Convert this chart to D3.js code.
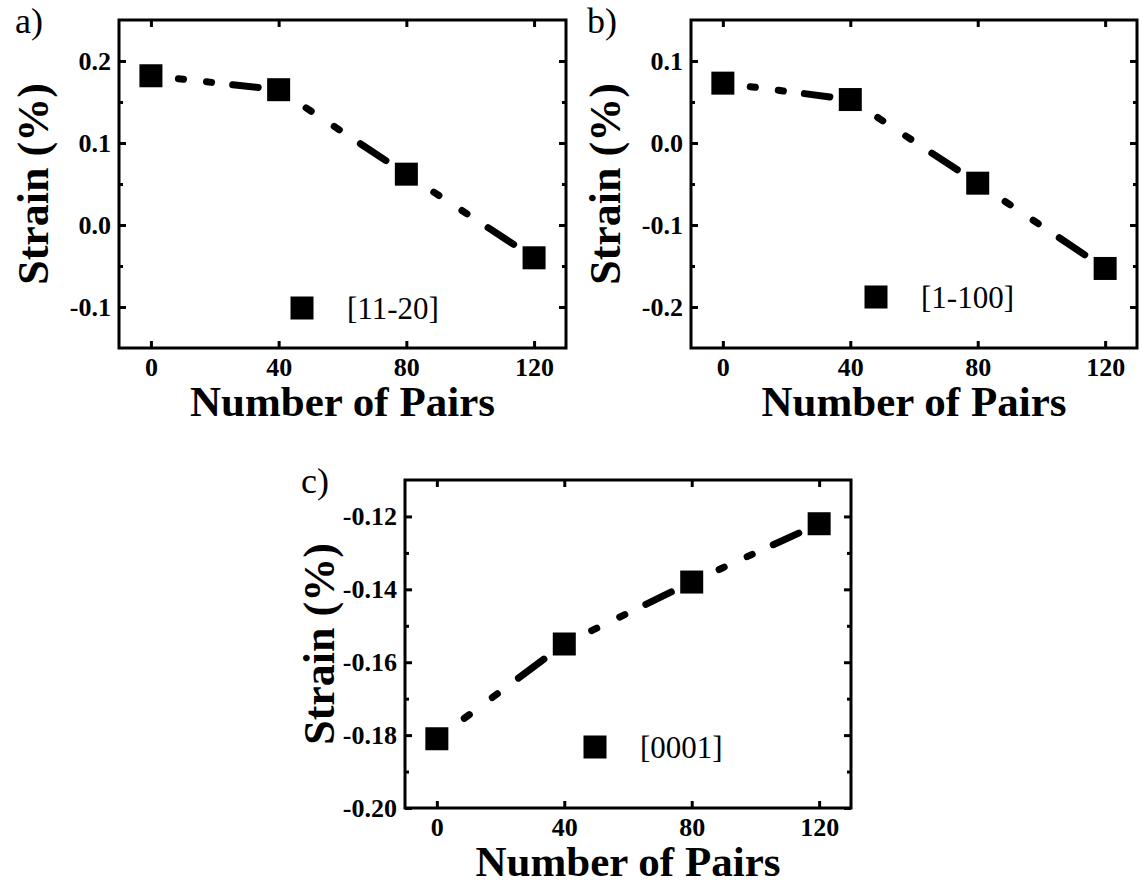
<!DOCTYPE html>
<html>
<head>
<meta charset="utf-8">
<title>Strain vs number of pairs</title>
<style>
	body {
		margin: 0;
		background: #fff;
	}
	svg text {
		font-family: "Liberation Serif", "Times New Roman", serif;
		fill: #000;
	}
	.tick line {
		stroke: #000;
		stroke-width: 3px;
	}
	.tick text {
		font-size: 26px;
		font-weight: bold;
	}
</style>
</head>
<body>
<script src="https://d3js.org/d3.v7.min.js"></script>
<script>

// x values (number of pairs) shared by the three panels
var pairs = [0, 40, 80, 120];
var xTicks = [0, 40, 80, 120];

// strain (%)
var strainA = [0.182, 0.165, 0.062, -0.040];   // [11-20]
var strainB = [0.073, 0.053, -0.049, -0.153];  // [1-100]
var strainC = [-0.181, -0.155, -0.138, -0.122]; // [0001]

var yTicksA = [-0.1, 0.0, 0.1, 0.2];
var yMinorA = [-0.05, 0.05, 0.15];
var yTicksB = [-0.2, -0.1, 0.0, 0.1];
var yMinorB = [-0.15, -0.05, 0.05];
var yTicksC = [-0.20, -0.18, -0.16, -0.14, -0.12];
var yMinorC = [-0.19, -0.17, -0.15, -0.13];

var legendNames = ["[11-20]", "[1-100]", "[0001]"];
var panelLetters = ["a)", "b)", "c)"];

var width = 1143;
var height = 883;

var svg = d3.select("body")
	.append("svg")
	.attr("width", width)
	.attr("height", height);

svg.append("rect")
	.attr("width", width)
	.attr("height", height)
	.attr("fill", "#fff");

// one panel = frame + mirrored ticks + dashed line + squares + legend
function drawPanel(p) {
	var x = d3.scaleLinear().domain([-10, 130]).range([p.x0, p.x1]);
	var y = d3.scaleLinear().domain(p.yDomain).range([p.y1, p.y0]);
	var fmt = d3.format(p.fmt);
	var yFormat = function(d) { return fmt(d).replace("\u2212", "-"); };

	var g = svg.append("g");

	// axes with inward ticks
	g.append("g")
		.attr("transform", "translate(0," + p.y1 + ")")
		.call(d3.axisBottom(x).tickValues(xTicks).tickSize(-7).tickPadding(10))
		.call(function(s) { s.select(".domain").remove(); })
		.selectAll("text").attr("dy", "0.71em");

	g.append("g")
		.attr("transform", "translate(0," + p.y0 + ")")
		.call(d3.axisTop(x).tickValues(xTicks).tickSize(-7).tickFormat(""))
		.call(function(s) { s.select(".domain").remove(); });

	g.append("g")
		.attr("transform", "translate(" + p.x0 + ",0)")
		.call(d3.axisLeft(y).tickValues(p.yTicks).tickSize(-7).tickPadding(8).tickFormat(yFormat))
		.call(function(s) { s.select(".domain").remove(); });

	g.append("g")
		.attr("transform", "translate(" + p.x0 + ",0)")
		.call(d3.axisLeft(y).tickValues(p.yMinor).tickSize(-4).tickFormat(""))
		.call(function(s) { s.select(".domain").remove(); });

	g.append("g")
		.attr("transform", "translate(" + p.x1 + ",0)")
		.call(d3.axisRight(y).tickValues(p.yTicks).tickSize(-7).tickFormat(""))
		.call(function(s) { s.select(".domain").remove(); });

	g.append("g")
		.attr("transform", "translate(" + p.x1 + ",0)")
		.call(d3.axisRight(y).tickValues(p.yMinor).tickSize(-4).tickFormat(""))
		.call(function(s) { s.select(".domain").remove(); });

	// frame
	g.append("rect")
		.attr("x", p.x0)
		.attr("y", p.y0)
		.attr("width", p.x1 - p.x0)
		.attr("height", p.y1 - p.y0)
		.attr("fill", "none")
		.attr("stroke", "#000")
		.attr("stroke-width", 3);

	// dash-dot-dot line, pattern restarts on every segment like in the original
	var line = d3.line()
		.x(function(d) { return x(d[0]); })
		.y(function(d) { return y(d[1]); });

	var pts = pairs.map(function(v, i) { return [v, p.values[i]]; });
	var segs = d3.pairs(pts);

	g.selectAll(".seg")
		.data(segs)
		.enter().append("path")
		.attr("class", "seg")
		.attr("d", line)
		.attr("pathLength", 100)
		.attr("fill", "none")
		.attr("stroke", "#000")
		.attr("stroke-width", 7)
		.attr("stroke-linecap", "round")
		.attr("stroke-dasharray", "4 18 4 16.5 20 37.5")
		.attr("stroke-dashoffset", -21.5);

	// square markers
	var sz = 23;
	g.selectAll(".pt")
		.data(pts)
		.enter().append("rect")
		.attr("class", "pt")
		.attr("x", function(d) { return x(d[0]) - sz / 2; })
		.attr("y", function(d) { return y(d[1]) - sz / 2; })
		.attr("width", sz)
		.attr("height", sz)
		.attr("fill", "#000");

	// legend
	g.append("rect")
		.attr("x", p.legX - sz / 2)
		.attr("y", p.legY - sz / 2)
		.attr("width", sz)
		.attr("height", sz)
		.attr("fill", "#000");

	g.append("text")
		.attr("x", p.legX + 45)
		.attr("y", p.legY + 11)
		.attr("font-size", 31)
		.text(p.legend);

	// titles
	g.append("text")
		.attr("x", (p.x0 + p.x1) / 2)
		.attr("y", p.y1 + 68)
		.attr("text-anchor", "middle")
		.attr("font-size", 43)
		.attr("font-weight", "bold")
		.text("Number of Pairs");

	g.append("text")
		.attr("transform", "translate(" + (p.x0 - 71) + "," + ((p.y0 + p.y1) / 2) + ") rotate(-90)")
		.attr("text-anchor", "middle")
		.attr("font-size", 44)
		.attr("font-weight", "bold")
		.text("Strain (%)");

	g.append("text")
		.attr("x", p.x0 - 104)
		.attr("y", p.y0 + 13)
		.attr("font-size", 36)
		.text(p.letter);
}

drawPanel({
	x0: 119, x1: 566, y0: 20, y1: 348,
	yDomain: [-0.15, 0.25], yTicks: yTicksA, yMinor: yMinorA, fmt: ".1f",
	values: strainA, legend: legendNames[0], letter: panelLetters[0],
	legX: 302, legY: 308
});

drawPanel({
	x0: 691, x1: 1137, y0: 20, y1: 348,
	yDomain: [-0.25, 0.15], yTicks: yTicksB, yMinor: yMinorB, fmt: ".1f",
	values: strainB, legend: legendNames[1], letter: panelLetters[1],
	legX: 876, legY: 297
});

drawPanel({
	x0: 405, x1: 851, y0: 480, y1: 808,
	yDomain: [-0.20, -0.11], yTicks: yTicksC, yMinor: yMinorC, fmt: ".2f",
	values: strainC, legend: legendNames[2], letter: panelLetters[2],
	legX: 595, legY: 747
});

</script>
</body>
</html>
